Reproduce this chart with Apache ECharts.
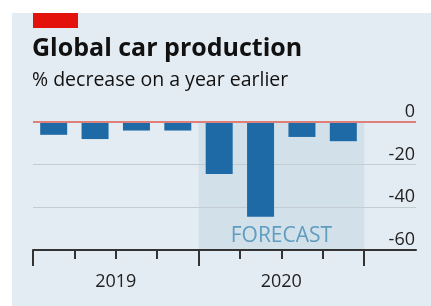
<!DOCTYPE html>
<html>
<head>
<meta charset="utf-8">
<script src="https://cdn.jsdelivr.net/npm/echarts@6/dist/echarts.min.js"></script>
<style>
html,body{margin:0;padding:0;background:#fff;}
#c{width:431px;height:306px;}
</style>
</head>
<body>
<div id="c"></div>
<script>
// Data
const quarters = ['2019 Q1','2019 Q2','2019 Q3','2019 Q4','2020 Q1','2020 Q2','2020 Q3','2020 Q4'];
const values = [-6, -8, -4, -4, -24.4, -44.4, -7, -9];
const years = ['2019', '2020'];
const forecastRange = [4, 8];         // quarter boundaries covered by the forecast band
const yTicks = [-60, -40, -20, 0];

const FONT = '"Open Sans", "Noto Sans", sans-serif';
const XMAX = 9.25;                    // plot extends past the last quarter to hold the y labels
const YMIN = yTicks[0], YMAX = yTicks[yTicks.length - 1];

const chart = echarts.init(document.getElementById('c'), null, {renderer: 'canvas'});

const hiddenY = idx => ({
  type: 'value', gridIndex: idx, min: YMIN, max: YMAX, interval: 20,
  show: false, splitLine: {show: false}
});

const option = {
  backgroundColor: '#ffffff',
  animation: false,
  textStyle: {fontFamily: FONT},
  graphic: [
    {type: 'rect', z: -10, shape: {x: 12, y: 13, width: 419, height: 293}, style: {fill: '#e4ecf3'}},
    {type: 'rect', z: 10, shape: {x: 33, y: 13, width: 45, height: 15}, style: {fill: '#e3120b'}}
  ],
  title: {
    text: 'Global car production',
    subtext: '% decrease on a year earlier',
    left: 32,
    top: 36,
    padding: 0,
    itemGap: 9,
    textStyle: {fontFamily: FONT, fontSize: 25, fontWeight: 'bold', color: '#111'},
    subtextStyle: {fontFamily: FONT, fontSize: 19.5, color: '#111'}
  },
  grid: [
    {left: 33, right: 15, top: 122, bottom: 56},   // full plot: gridlines, y labels, axis line
    {left: 33, right: 67, top: 122, bottom: 56},   // quarters
    {left: 33, right: 67, top: 122, bottom: 56}    // years
  ],
  xAxis: [
    {
      type: 'value', gridIndex: 0, min: 0, max: XMAX, z: 5,
      axisLine: {show: true, onZero: false, lineStyle: {color: '#333', width: 2}},
      axisTick: {show: false}, axisLabel: {show: false}, splitLine: {show: false}
    },
    {
      type: 'category', gridIndex: 1, data: quarters, boundaryGap: true, z: 5,
      axisLine: {show: false, onZero: false},
      axisTick: {show: true, interval: 0, length: 9, lineStyle: {color: '#333', width: 2}},
      axisLabel: {show: false}, splitLine: {show: false}
    },
    {
      type: 'category', gridIndex: 2, data: years, boundaryGap: true, z: 5,
      axisLine: {show: false, onZero: false},
      axisTick: {show: true, interval: 0, length: 16, lineStyle: {color: '#333', width: 2}},
      axisLabel: {show: true, interval: 0, margin: 23, fontSize: 18, color: '#222', fontFamily: FONT},
      splitLine: {show: false}
    }
  ],
  yAxis: [
    {
      type: 'value', gridIndex: 0, min: YMIN, max: YMAX, interval: 20,
      position: 'right',
      axisLine: {show: false},
      axisTick: {show: false},
      axisLabel: {
        inside: true, align: 'right', verticalAlign: 'bottom', margin: 1,
        padding: [0, 0, 1, 0],
        fontSize: 18, color: '#222', fontFamily: FONT
      },
      splitLine: {show: true, lineStyle: {color: '#c4ccd3', width: 1.2}}
    },
    hiddenY(1),
    hiddenY(2)
  ],
  series: [
    {
      type: 'line', xAxisIndex: 0, yAxisIndex: 0, z: -1, data: [],
      markArea: {
        silent: true, z: -1,
        itemStyle: {color: '#d2e0ea'},
        label: {show: true, position: 'insideBottom', distance: 3, color: '#5f9dbf', fontSize: 21, fontFamily: FONT},
        data: [[
          {name: 'FORECAST', xAxis: forecastRange[0], yAxis: YMAX},
          {xAxis: forecastRange[1], yAxis: YMIN}
        ]]
      }
    },
    {
      type: 'bar', xAxisIndex: 1, yAxisIndex: 1, z: 3,
      barWidth: 27,
      itemStyle: {color: '#1d6aa6'},
      data: values
    },
    {
      type: 'line', xAxisIndex: 0, yAxisIndex: 0, z: 4, data: [],
      markLine: {
        silent: true, symbol: 'none', z: 4,
        lineStyle: {color: '#e07f78', width: 2, type: 'solid'},
        label: {show: false},
        data: [{yAxis: 0}]
      }
    }
  ]
};
chart.setOption(option);
</script>
</body>
</html>
